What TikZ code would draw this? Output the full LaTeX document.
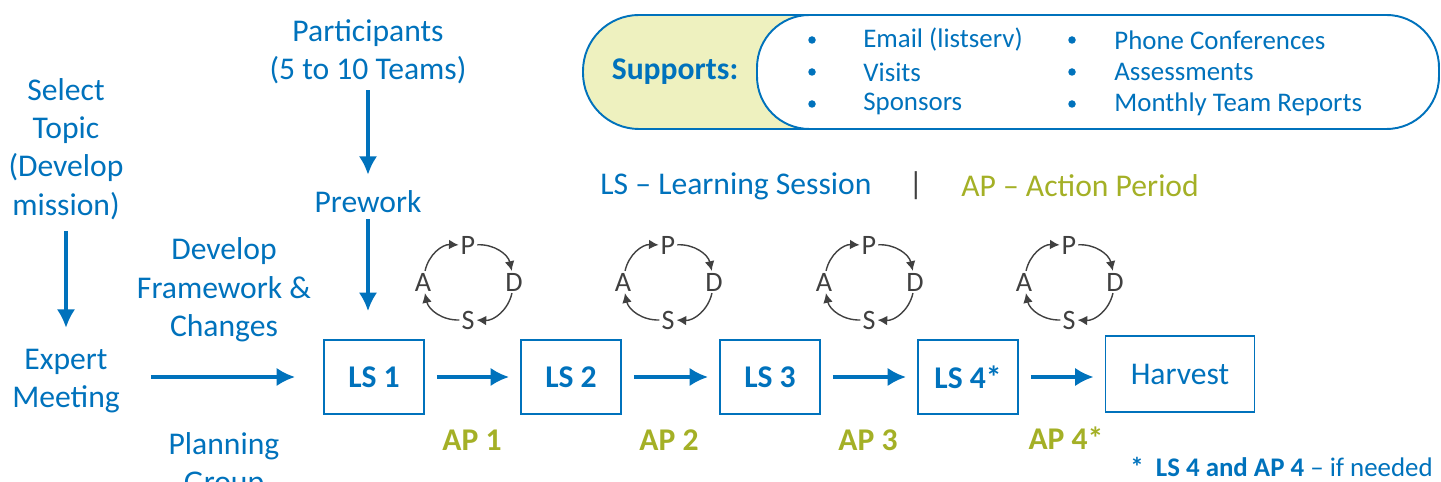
\documentclass[tikz,border=0pt]{standalone}
\usepackage{fontspec}
\setmainfont{Carlito}
\usepackage{tikz}
\usetikzlibrary{arrows.meta}
\definecolor{lsblue}{RGB}{0,114,188}
\definecolor{apolive}{RGB}{164,176,38}
\definecolor{supfill}{RGB}{238,241,191}
\definecolor{pdsagray}{RGB}{64,64,64}

\begin{document}
\begin{tikzpicture}[
		x=0.02cm, y=-0.02cm,
		txt/.style = {text=lsblue, align=center, font=\fontsize{18}{21.8}\selectfont},
		lsbox/.style = {draw=lsblue, line width=1.1pt, minimum width=2cm, minimum height=1.48cm, text=lsblue, font=\fontsize{18}{21.8}\selectfont\bfseries},
		flow/.style = {draw=lsblue, line width=1.8pt, -{Latex[length=10.5pt,width=10.5pt]}},
		ap/.style = {text=apolive, font=\fontsize{18}{21.8}\selectfont\bfseries},
		pdsa/.style = {text=pdsagray, inner sep=1pt, font=\fontsize{16}{19}\selectfont},
		cyc/.style = {draw=pdsagray, line width=0.8pt, -{Latex[length=5.5pt,width=5.5pt]}},
		item/.style = {text=lsblue, anchor=west, inner sep=0pt, font=\fontsize{15.3}{18}\selectfont},
		dot/.style = {circle, fill=lsblue, inner sep=0pt, minimum size=0.15cm}
	]
	\useasboundingbox (0,0) rectangle (1441,482);
	\clip (0,0) rectangle (1441,482);

	% supports band
	\draw[lsblue, line width=1.1pt, fill=supfill, rounded corners=1.12cm] (583,15) rectangle (1439,129);
	\draw[lsblue, line width=1.1pt, fill=white, rounded corners=1.05cm] (757,15) rectangle (1439,129);
	\node[text=lsblue, font=\fontsize{18}{21.8}\selectfont\bfseries] (sup) at (675,72) {Supports:};
	\foreach \y/\a/\b in {40/Email (listserv)/Phone Conferences, 72/Visits/Assessments, 104/Sponsors/Monthly Team Reports}{
		\node[dot] at (812,\y) {};
		\node[item] at (863,\y) {\a};
		\node[dot] at (1072,\y) {};
		\node[item] at (1114,\y) {\b};
	}

	% legend
	\node[txt] (lsleg) at (736,186) {LS – Learning Session};
	\node[text=pdsagray, font=\fontsize{18}{21.8}\selectfont] (bar) at (916,186) {|};
	\node[txt, text=apolive] (apleg) at (1080,186) {AP – Action Period};

	% left column
	\node[txt] (topic)  at (66,149)  {Select\\Topic\\(Develop\\mission)};
	\node[txt] (expert) at (66,381)  {Expert\\Meeting};
	\node[txt] (part)   at (368,52)  {Participants\\(5 to 10 Teams)};
	\node[txt] (pre)    at (368,202) {Prework};
	\node[txt] (frame)  at (224,290) {Develop\\Framework \&\\Changes};
	\node[txt] (plan)   at (224,465) {Planning\\Group};

	% sessions
	\node[lsbox] (ls1) at (374,377) {LS 1};
	\node[lsbox] (ls2) at (571,377) {LS 2};
	\node[lsbox] (ls3) at (770,377) {LS 3};
	\node[lsbox] (ls4) at (968,377) {LS 4*};
	\node[lsbox, font=\fontsize{18}{21.8}\selectfont, minimum width=2.98cm, minimum height=1.52cm] (harv) at (1180,374) {Harvest};

	\node[ap] (ap1) at (472,440) {AP 1};
	\node[ap] (ap2) at (669,440) {AP 2};
	\node[ap] (ap3) at (868,440) {AP 3};
	\node[ap] (ap4) at (1066,438) {AP 4*};

	\draw[flow, shorten <=0.1cm, shorten >=0.3cm] (topic) -- (expert);
	\draw[flow, shorten >=0.2cm] (part) -- (pre);
	\draw[flow, shorten >=0.56cm] (pre) -- (pre |- ls1.north);
	\draw[flow, shorten <=0.5cm, shorten >=0.56cm] (expert.east |- ls1) -- (ls1.west);
	\draw[flow, shorten <=0.24cm, shorten >=0.22cm] (ls1) -- (ls2);
	\draw[flow, shorten <=0.24cm, shorten >=0.22cm] (ls2) -- (ls3);
	\draw[flow, shorten <=0.24cm, shorten >=0.22cm] (ls3) -- (ls4);
	\draw[flow, shorten <=0.24cm, shorten >=0.22cm] (ls4) -- (ls4 -| harv.west);

	% plan-do-study-act cycles
	\foreach \x [count=\i] in {468,668,869,1069}{
		\node[pdsa] (p\i) at (\x,245)    {P};
		\node[pdsa] (d\i) at (\x+46,282) {D};
		\node[pdsa] (s\i) at (\x,320)    {S};
		\node[pdsa] (a\i) at (\x-45,282) {A};
		\draw[cyc] (a\i) to[bend left=40] (p\i);
		\draw[cyc] (p\i) to[bend left=40] (d\i);
		\draw[cyc] (d\i) to[bend left=40] (s\i);
		\draw[cyc] (s\i) to[bend left=40] (a\i);
	}

	\node[item, font=\fontsize{15.3}{18}\selectfont] (note) at (1130,467) {\textbf{*\ \ LS 4 and AP 4} – if needed};
\end{tikzpicture}
\end{document}
